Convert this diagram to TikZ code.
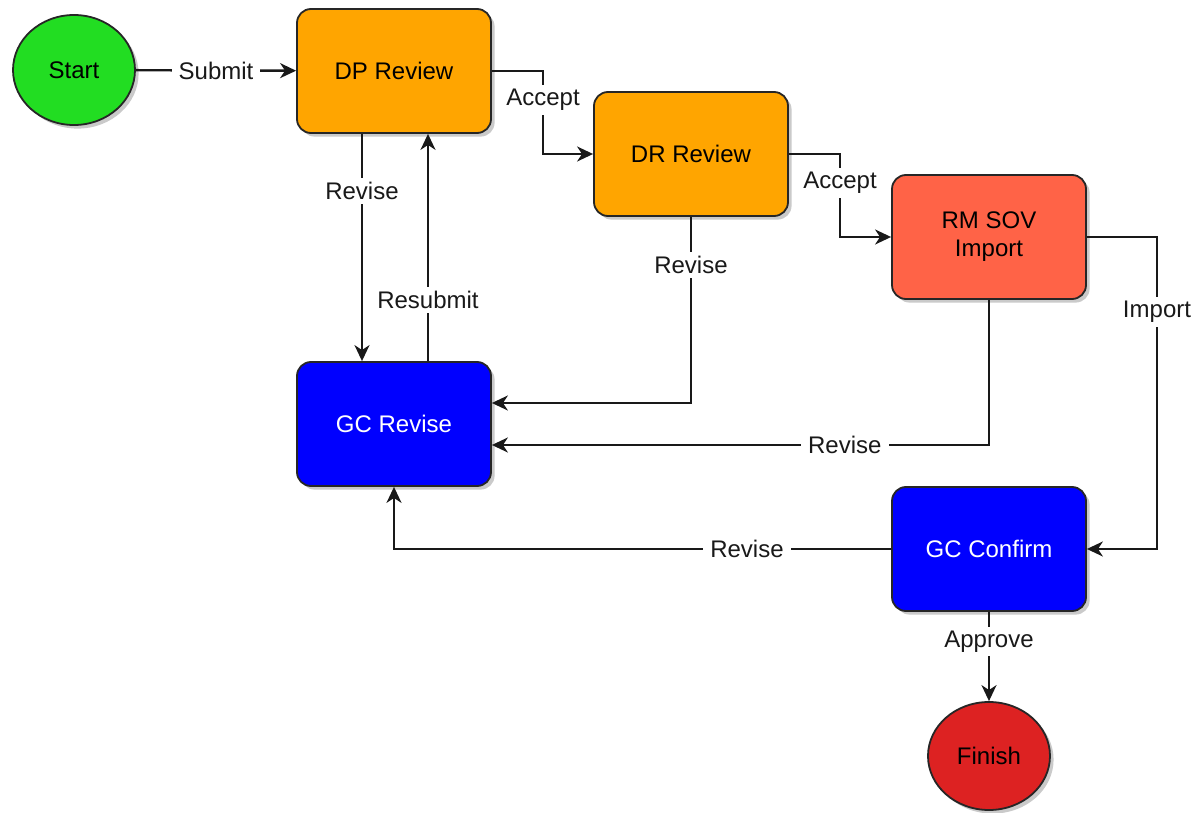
\documentclass[tikz,border=0pt]{standalone}
\usepackage{fontspec}
\setmainfont{Liberation Sans}
\usetikzlibrary{arrows.meta,shadows,shapes.geometric}
\definecolor{startgreen}{RGB}{34,221,34}
\definecolor{finred}{RGB}{221,34,34}
\definecolor{revorange}{RGB}{255,165,0}
\definecolor{rmred}{RGB}{255,99,71}
\definecolor{gcblue}{RGB}{0,0,255}
\begin{document}
\begin{tikzpicture}[x=0.5pt,y=-0.5pt,
  font=\fontsize{12}{14}\selectfont,
  shad/.style={drop shadow={shadow xshift=1.8pt,shadow yshift=-1.8pt,fill=black!35,opacity=0.6}},
  box/.style={draw=black!85,line width=0.9pt,rounded corners=7pt,minimum width=97pt,minimum height=62pt,align=center,shad},
  oval/.style={ellipse,draw=black!85,line width=0.9pt,shad},
  arr/.style={draw=black!90,line width=1.2pt,-{Stealth[length=8pt,width=7.5pt,inset=2.5pt]}},
  lbl/.style={fill=white,inner xsep=3.5pt,inner ysep=2pt,text=black!90}]
\useasboundingbox (0,0) rectangle (1191,813);
% nodes
\node[oval,fill=startgreen,minimum width=61pt,minimum height=55pt] (start) at (74,70) {Start};
\node[box,fill=revorange] (dp) at (394,71) {DP Review};
\node[box,fill=revorange] (dr) at (691,154) {DR Review};
\node[box,fill=rmred] (rm) at (989,237) {RM SOV\\Import};
\node[box,fill=gcblue,text=white] (gcr) at (394,424) {GC Revise};
\node[box,fill=gcblue,text=white] (gcc) at (989,549) {GC Confirm};
\node[oval,fill=finred,minimum width=61pt,minimum height=54pt] (fin) at (989,756) {Finish};
% helper coordinates
\coordinate (xa1) at (543,0);
\coordinate (xa2) at (840,0);
\coordinate (xdn) at (362,0);
\coordinate (xup) at (428,0);
\coordinate (ydr) at (0,403);
\coordinate (yrm) at (0,445);
\coordinate (ximp) at (1157,0);
% connectors
\draw[arr] (start) -- node[lbl] {Submit} (dp);
\draw[arr] (dp.east) -- (dp.east -| xa1) -- node[lbl,pos=0.35] {Accept} (dr.west -| xa1) -- (dr.west);
\draw[arr] (dr.east) -- (dr.east -| xa2) -- node[lbl,pos=0.35] {Accept} (rm.west -| xa2) -- (rm.west);
\draw[arr] (dp.south -| xdn) -- node[lbl,pos=0.25] {Revise} (gcr.north -| xdn);
\draw[arr] (gcr.north -| xup) -- node[lbl,pos=0.27] {Resubmit} (dp.south -| xup);
\draw[arr] (dr.south) -- node[lbl,pos=0.26] {Revise} (dr.south |- ydr) -- (gcr.east |- ydr);
\draw[arr] (rm.south) -- (rm.south |- yrm) -- node[lbl,pos=0.29] {Revise} (gcr.east |- yrm);
\draw[arr] (rm.east) -- (rm.east -| ximp) -- node[lbl,pos=0.24] {Import} (gcc.east -| ximp) -- (gcc.east);
\draw[arr] (gcc.west) -- node[lbl,pos=0.29] {Revise} (gcc.west -| gcr.south) -- (gcr.south);
\draw[arr] (gcc) -- node[lbl,pos=0.33] {Approve} (fin);
\end{tikzpicture}
\end{document}
